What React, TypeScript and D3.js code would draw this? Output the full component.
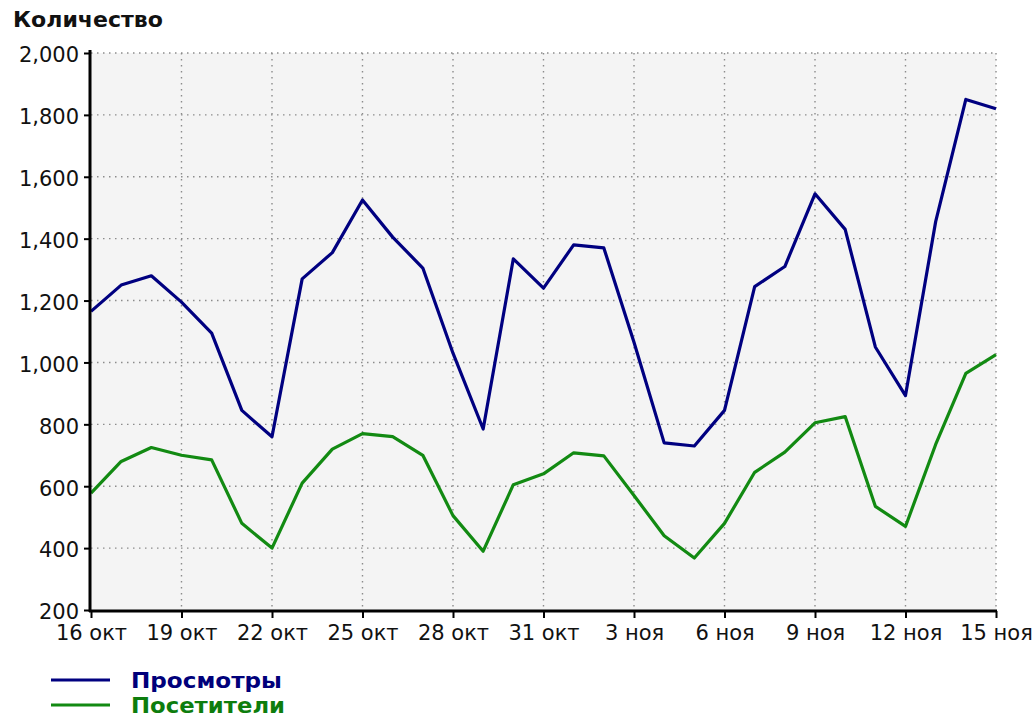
import * as d3 from 'd3';
import React, { useEffect, useRef } from 'react';

// one label per day, 16 Oct .. 15 Nov
const days = [
  '16 окт', '17 окт', '18 окт', '19 окт', '20 окт', '21 окт', '22 окт', '23 окт',
  '24 окт', '25 окт', '26 окт', '27 окт', '28 окт', '29 окт', '30 окт', '31 окт',
  '1 ноя', '2 ноя', '3 ноя', '4 ноя', '5 ноя', '6 ноя', '7 ноя', '8 ноя',
  '9 ноя', '10 ноя', '11 ноя', '12 ноя', '13 ноя', '14 ноя', '15 ноя',
];

const xTickLabels = [
  '16 окт', '19 окт', '22 окт', '25 окт', '28 окт', '31 окт',
  '3 ноя', '6 ноя', '9 ноя', '12 ноя', '15 ноя',
];

const yTicks = [200, 400, 600, 800, 1000, 1200, 1400, 1600, 1800, 2000];

const views = [
  1165, 1250, 1280, 1195, 1095, 845, 760, 1270, 1355, 1525, 1405, 1305, 1030, 785, 1335, 1240,
  1380, 1370, 1065, 740, 730, 845, 1245, 1310, 1545, 1430, 1050, 893, 1455, 1850, 1820,
];

const visitors = [
  578, 680, 725, 700, 685, 480, 400, 610, 720, 770, 760, 700, 505, 390, 605, 640,
  708, 698, 570, 440, 368, 480, 645, 710, 805, 825, 535, 470, 735, 965, 1025,
];

const seriesNames = ['Просмотры', 'Посетители'];
const seriesColors = ['#000080', '#128a12'];
const legendColors = ['#00007a', '#0d7d0d'];

const W = 1032;
const H = 724;
const left = 91;
const right = 996;
const top = 53;
const bottom = 610;

const FONT = '"DejaVu Sans", Verdana, sans-serif';

function drawChart(node: SVGSVGElement) {
  const svg = d3.select(node);
  svg.selectAll('*').remove();

  const x = d3.scalePoint<string>().domain(days).range([left, right]);
  const y = d3.scaleLinear().domain([200, 2000]).range([bottom, top]);

  // plot background
  svg
    .append('rect')
    .attr('x', left)
    .attr('y', top)
    .attr('width', right - left)
    .attr('height', bottom - top)
    .attr('fill', '#f4f4f4');

  // grid
  const grid = svg.append('g').attr('stroke', '#8c8c8c').attr('stroke-width', 1.4).attr('stroke-dasharray', '1.5,4.5');
  grid
    .selectAll('line.h')
    .data(yTicks.filter((t) => t > 200))
    .enter()
    .append('line')
    .attr('x1', left)
    .attr('x2', right)
    .attr('y1', (d) => y(d))
    .attr('y2', (d) => y(d));
  grid
    .selectAll('line.v')
    .data(xTickLabels.slice(1))
    .enter()
    .append('line')
    .attr('x1', (d) => x(d) as number)
    .attr('x2', (d) => x(d) as number)
    .attr('y1', top)
    .attr('y2', bottom);

  // lines
  const series = [views, visitors];
  const line = d3
    .line<number>()
    .x((_d, i) => x(days[i]) as number)
    .y((d) => y(d));
  series.forEach((s, i) => {
    svg
      .append('path')
      .attr('d', line(s) as string)
      .attr('fill', 'none')
      .attr('stroke', seriesColors[i])
      .attr('stroke-width', 3.2)
      .attr('stroke-linejoin', 'round');
  });

  // y axis
  const yAxis = d3
    .axisLeft(y)
    .tickValues(yTicks)
    .tickFormat(d3.format(','))
    .tickSize(6)
    .tickSizeOuter(0)
    .tickPadding(5);
  const gy = svg.append('g').attr('transform', `translate(${left - 1},0)`).call(yAxis);
  gy.select('.domain').attr('stroke', '#000').attr('stroke-width', 3).attr('d', `M0,${top - 3}V${bottom + 2}`);
  gy.selectAll('.tick line').attr('stroke', '#000').attr('stroke-width', 2);
  gy.selectAll('.tick text')
    .attr('font-family', FONT)
    .attr('font-size', 21)
    .attr('fill', '#111')
    .attr('dy', '0.42em');

  // x axis
  const xAxis = d3
    .axisBottom(x)
    .tickValues(xTickLabels)
    .tickSize(7)
    .tickSizeOuter(0)
    .tickPadding(6);
  const gx = svg.append('g').attr('transform', `translate(0,${bottom + 1})`).call(xAxis);
  gx.select('.domain').attr('stroke', '#000').attr('stroke-width', 3).attr('d', `M${left - 2},0H${right + 1}`);
  gx.selectAll('.tick line').attr('stroke', '#000').attr('stroke-width', 2);
  gx.selectAll('.tick text')
    .attr('font-family', FONT)
    .attr('font-size', 21)
    .attr('fill', '#111')
    .attr('dy', '0.75em');

  // title
  svg
    .append('text')
    .attr('x', 13)
    .attr('y', 27)
    .attr('font-family', FONT)
    .attr('font-weight', 'bold')
    .attr('font-size', 21)
    .attr('textLength', 150)
    .attr('lengthAdjust', 'spacingAndGlyphs')
    .attr('fill', '#111')
    .text('Количество');

  // legend
  const legend = svg.append('g');
  seriesNames.forEach((name, i) => {
    const ly = 680 + i * 25;
    legend
      .append('line')
      .attr('x1', 51)
      .attr('x2', 110)
      .attr('y1', ly)
      .attr('y2', ly)
      .attr('stroke', seriesColors[i])
      .attr('stroke-width', 3);
    legend
      .append('text')
      .attr('x', 131)
      .attr('y', ly + 8)
      .attr('font-family', FONT)
      .attr('font-weight', 'bold')
      .attr('font-size', 22)
      .attr('textLength', i === 0 ? 151 : 154)
      .attr('lengthAdjust', 'spacingAndGlyphs')
      .attr('fill', legendColors[i])
      .text(name);
  });
}

export default function App() {
  const ref = useRef<SVGSVGElement>(null);

  useEffect(() => {
    if (ref.current) drawChart(ref.current);
  }, []);

  return (
    <svg
      ref={ref}
      width={W}
      height={H}
      style={{ position: 'absolute', left: 0, top: 0, background: '#fff' }}
    />
  );
}
